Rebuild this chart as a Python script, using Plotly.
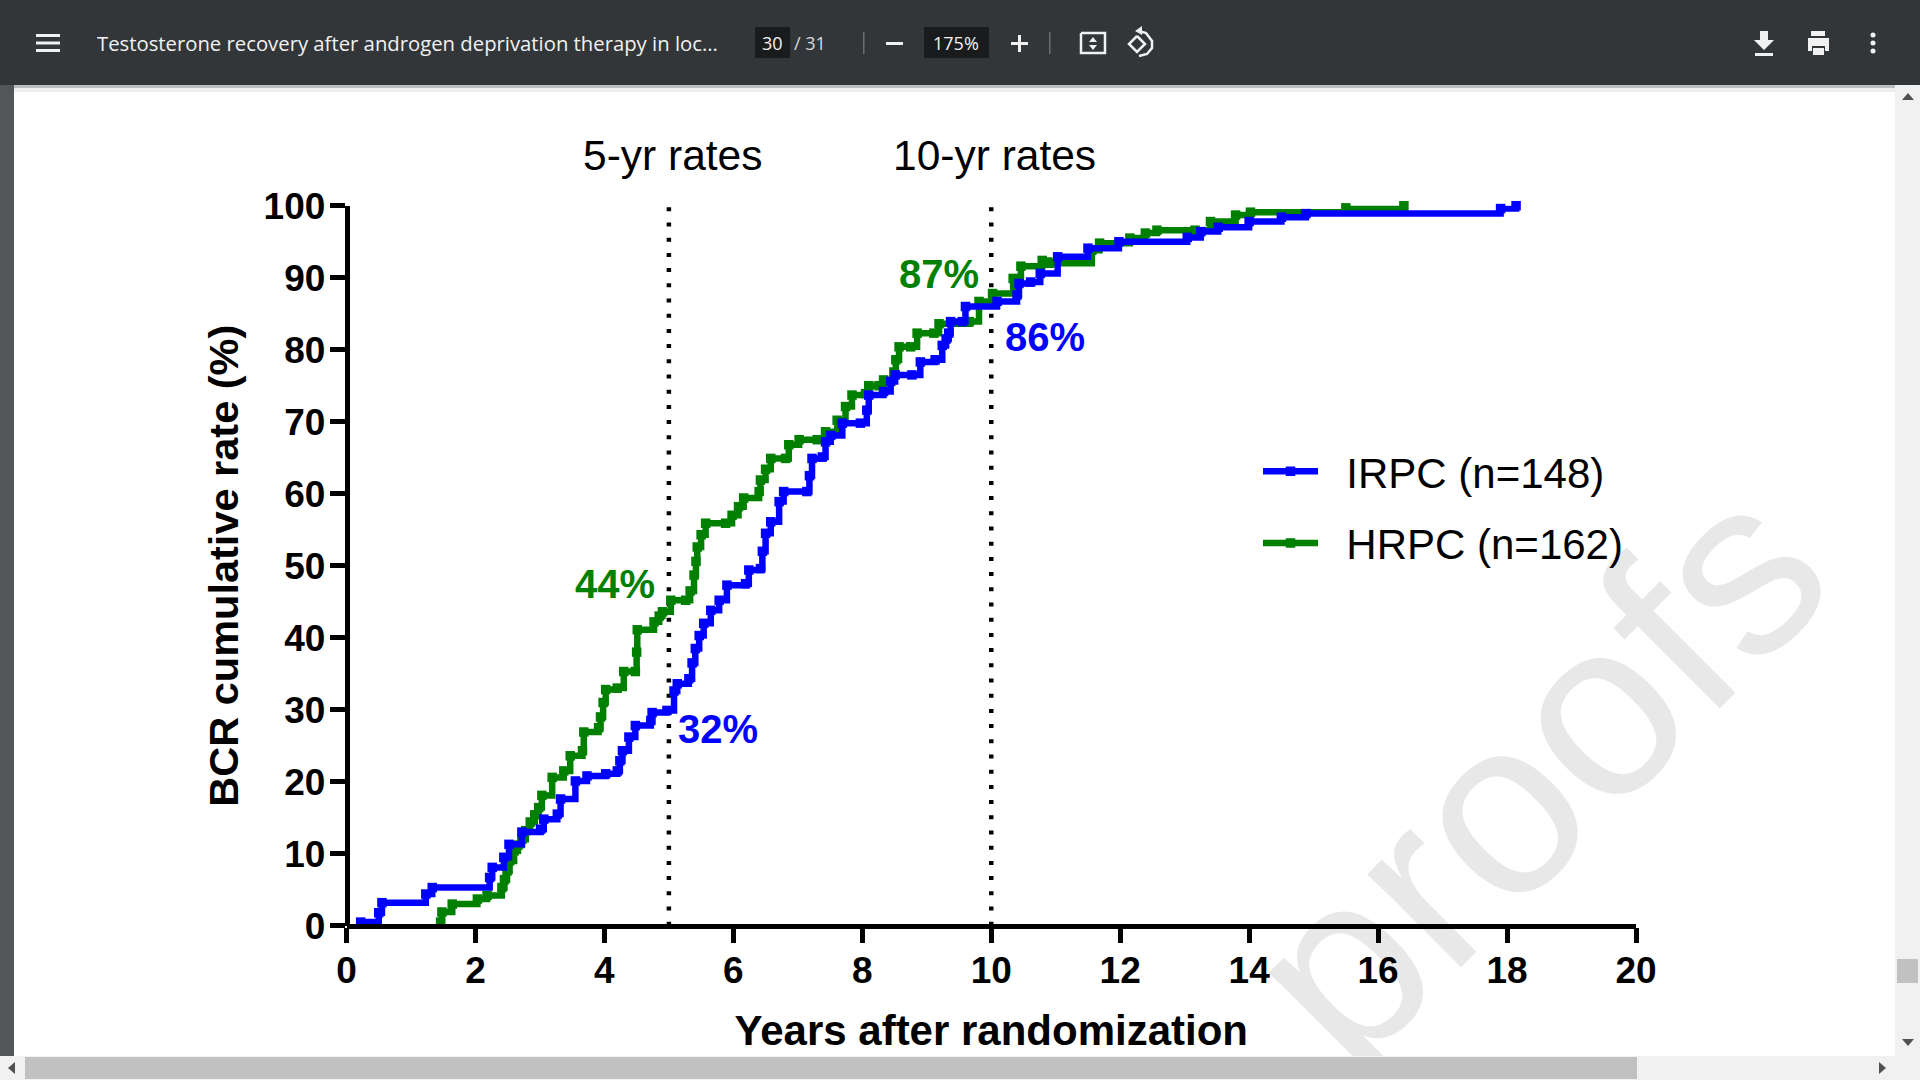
import plotly.graph_objects as go

W = 1920
H = 1080

# values
irpc_years = [0.22, 0.50, 0.55, 1.23, 1.33, 2.22, 2.26, 2.44, 2.52, 2.72, 3.01, 3.06, 3.27, 3.32, 3.55, 3.73, 4.02, 4.20,
              4.24, 4.28, 4.38, 4.48, 4.72, 4.74, 4.97, 5.08, 5.13, 5.31, 5.36, 5.41, 5.47, 5.54, 5.65, 5.78, 5.90, 6.19,
              6.24, 6.42, 6.45, 6.50, 6.58, 6.71, 6.78, 7.14, 7.18, 7.22, 7.38, 7.43, 7.51, 7.69, 7.97, 8.07, 8.10, 8.33,
              8.44, 8.51, 8.77, 8.90, 9.13, 9.24, 9.30, 9.34, 9.37, 9.55, 9.60, 10.09, 10.40, 10.43, 10.61, 10.76,
              11.03, 11.50, 11.98, 13.04, 13.25, 13.52, 14.00, 14.50, 14.88, 17.90, 18.14]
irpc_rate = [0.5, 1.8, 3.2, 4.4, 5.3, 6.7, 8.1, 9.5, 11.3, 13.0, 13.4, 14.8, 15.5, 17.6, 20.1, 20.8, 21.1, 21.5,
             22.9, 24.3, 26.2, 27.8, 28.5, 29.6, 29.9, 32.6, 33.6, 34.3, 36.5, 38.5, 40.3, 42.0, 43.8, 45.2, 47.3, 47.5,
             49.4, 49.6, 52.0, 54.5, 56.1, 58.9, 60.3, 60.3, 62.5, 64.9, 65.1, 67.2, 68.1, 69.8, 69.8, 71.6, 73.7, 74.2,
             75.6, 76.5, 76.5, 78.3, 78.6, 80.6, 81.5, 82.3, 83.9, 83.9, 86.0, 86.7, 87.6, 89.2, 89.4, 90.6,
             92.9, 94.1, 95.0, 95.6, 96.4, 97.0, 97.8, 98.4, 98.9, 99.6, 100.0]

hrpc_years = [1.46, 1.48, 1.64, 2.03, 2.18, 2.41, 2.45, 2.49, 2.53, 2.60, 2.66, 2.72, 2.78, 2.85, 2.92, 2.98, 3.03, 3.19,
              3.37, 3.47, 3.66, 3.68, 3.91, 3.94, 3.98, 4.02, 4.20, 4.30, 4.48, 4.50, 4.51, 4.77, 4.85, 4.90, 5.03, 5.26,
              5.33, 5.39, 5.42, 5.44, 5.50, 5.57, 5.88, 5.98, 6.08, 6.16, 6.40, 6.42, 6.50, 6.58, 6.81, 6.86, 7.02, 7.30,
              7.43, 7.61, 7.74, 7.84, 8.05, 8.10, 8.26, 8.33, 8.49, 8.52, 8.57, 8.75, 8.85, 9.11, 9.19, 9.66, 9.81, 10.02,
              10.34, 10.46, 10.79, 10.90, 11.56, 11.68, 12.15, 12.39, 12.57, 13.16, 13.40, 13.79, 14.02, 15.50, 16.40]
hrpc_rate = [0.5, 1.9, 3.0, 3.7, 4.2, 5.3, 6.4, 7.6, 9.0, 10.4, 11.2, 12.0, 13.2, 14.4, 15.4, 16.4, 18.1, 20.6,
             21.5, 23.6, 24.3, 26.9, 27.5, 29.0, 31.0, 32.8, 33.0, 35.3, 35.3, 38.0, 41.1, 42.2, 43.0, 43.6, 45.2, 45.2,
             46.5, 48.7, 50.6, 52.6, 54.3, 55.9, 55.9, 57.0, 58.2, 59.4, 60.3, 61.9, 63.4, 64.9, 64.9, 66.8, 67.5, 67.5,
             68.6, 70.2, 72.1, 73.7, 73.9, 75.0, 75.0, 75.8, 76.9, 78.6, 80.4, 80.4, 82.3, 82.3, 83.6, 83.9, 86.7, 87.8,
             89.9, 91.6, 92.4, 92.0, 93.8, 94.8, 95.5, 96.2, 96.6, 96.6, 97.8, 98.7, 99.1, 99.7, 100.0]

irpc_label = "\u00a0\u00a0IRPC (n=148)"
hrpc_label = "\u00a0\u00a0HRPC (n=162)"
x_ticks = [0, 2, 4, 6, 8, 10, 12, 14, 16, 18, 20]
y_ticks = [0, 10, 20, 30, 40, 50, 60, 70, 80, 90, 100]
cutoff_years = [5, 10]
cutoff_span = [0, 100]

BLUE = "#0000ff"
GREEN = "#008000"
BAR = "#323639"
SANS = "Liberation Sans"


def fx(x):
    return x / W


def fy(y):
    return 1 - y / H


def rect(x0, y0, x1, y1, color):
    return dict(type="rect", xref="paper", yref="paper", layer="below", x0=fx(x0), x1=fx(x1),
                y0=fy(y0), y1=fy(y1), fillcolor=color, line_width=0)


def poly(points, color):
    d = "M " + " L ".join(f"{fx(a):.5f},{fy(b):.5f}" for a, b in points) + " Z"
    return dict(type="path", xref="paper", yref="paper", layer="below", path=d, fillcolor=color, line_width=0)


def outline(points, color, width=2.5):
    d = "M " + " L ".join(f"{fx(a):.5f},{fy(b):.5f}" for a, b in points)
    return dict(type="path", xref="paper", yref="paper", layer="below", path=d, line=dict(color=color, width=width))


def dot(x, y, r, color="#f1f1f1"):
    return dict(type="circle", xref="paper", yref="paper", layer="below", x0=fx(x - r), x1=fx(x + r),
                y0=fy(y - r), y1=fy(y + r), fillcolor=color, line_width=0)


def label(x, y, text, size, color="black", bold=False, font=SANS, anchor="center"):
    shown = f"<b>{text}</b>" if bold else text
    return dict(x=fx(x), y=fy(y), xref="paper", yref="paper", text=shown, showarrow=False, xanchor=anchor,
                yanchor="middle", font=dict(family=font, size=size, color=color))


fig = go.Figure()

for year in cutoff_years:
    fig.add_trace(go.Scatter(x=[year, year], y=cutoff_span, mode="lines", showlegend=False, hoverinfo="skip",
                             line=dict(color="black", width=4.5, dash="4px,11.2px")))

fig.add_trace(go.Scatter(x=hrpc_years, y=hrpc_rate, name=hrpc_label, legendgroup="b", legendrank=2,
                         mode="lines+markers", cliponaxis=False, line=dict(color=GREEN, width=6.5, shape="hv"),
                         marker=dict(color=GREEN, symbol="square", size=9.5)))
fig.add_trace(go.Scatter(x=irpc_years, y=irpc_rate, name=irpc_label, legendgroup="a", legendrank=1,
                         mode="lines+markers", cliponaxis=False, line=dict(color=BLUE, width=6.5, shape="hv"),
                         marker=dict(color=BLUE, symbol="square", size=9.5)))

shapes = [
    # watermark sits behind everything, the bars below cut it off
    dict(type="rect", xref="paper", yref="paper", layer="below", x0=fx(1218), x1=fx(1818), y0=fy(1054), y1=fy(454),
         line_width=0, label=dict(text="proofs", textangle=-45, textposition="middle center",
                                  font=dict(family=SANS, size=250, color="#e8e8e8"))),
    rect(0, 0, 14, H, "#525659"),
    rect(1895, 85, W, H, "#f1f1f1"),
    rect(0, 1056, W, H, "#f1f1f1"),
    rect(25, 1057, 1637, 1079, "#c1c1c1"),
    rect(1897, 959, 1918, 983, "#c1c1c1"),
    poly([(1902, 100), (1914, 100), (1908, 93)], "#505050"),
    poly([(1902, 1039), (1914, 1039), (1908, 1046)], "#505050"),
    poly([(15, 1062), (15, 1074), (8, 1068)], "#505050"),
    poly([(1879, 1062), (1879, 1074), (1886, 1068)], "#505050"),
    # toolbar
    rect(14, 85, 1895, 88, "#bdbdbd"),
    rect(14, 88, 1895, 92, "#eeeeee"),
    rect(0, 0, W, 85, BAR),
    rect(755, 27, 790, 58, "#191b1c"),
    rect(924, 27, 989, 58, "#191b1c"),
    rect(863, 32, 864.5, 54, "#6b6e70"),
    rect(1049, 32, 1050.5, 54, "#6b6e70"),
    rect(36, 34, 60, 37, "#f1f1f1"),
    rect(36, 41.5, 60, 44.5, "#f1f1f1"),
    rect(36, 49, 60, 52, "#f1f1f1"),
    rect(886, 42, 903, 45, "#f1f1f1"),
    rect(1011, 42, 1028, 45, "#f1f1f1"),
    rect(1018, 35, 1021, 52, "#f1f1f1"),
    # fit to page
    outline([(1081, 33), (1105, 33), (1105, 53), (1081, 53), (1081, 33)], "#f1f1f1"),
    poly([(1089, 42), (1097, 42), (1093, 37)], "#f1f1f1"),
    poly([(1089, 45), (1097, 45), (1093, 50)], "#f1f1f1"),
    # rotate
    outline([(1137, 36), (1129, 44), (1137, 52), (1145, 44), (1137, 36)], "#f1f1f1"),
    outline([(1139, 31), (1146, 33), (1152, 41), (1152, 48), (1147, 54), (1139, 56)], "#f1f1f1"),
    poly([(1142, 26), (1142, 35), (1135, 31)], "#f1f1f1"),
    # download
    poly([(1760, 31), (1768, 31), (1768, 40), (1774, 40), (1764, 50), (1754, 40), (1760, 40)], "#f1f1f1"),
    rect(1755, 53, 1773, 56, "#f1f1f1"),
    # print
    rect(1811, 31, 1825, 36, "#f1f1f1"),
    poly([(1808, 38), (1829, 38), (1829, 51), (1825, 51), (1825, 46), (1812, 46), (1812, 51), (1808, 51)], "#f1f1f1"),
    rect(1813, 48, 1824, 55, "#f1f1f1"),
    # more
    dot(1873, 35, 2.5),
    dot(1873, 43, 2.5),
    dot(1873, 51, 2.5),
]

annotations = [
    label(95, 43, "Testosterone recovery after androgen deprivation therapy in loc...", 20.3, "#f1f1f1",
          font="Open Sans", anchor="left"),
    label(772, 43, "30", 18, "#f1f1f1", font="Open Sans"),
    label(810, 43, "/ 31", 18, "#d8d8d8", font="Open Sans"),
    label(956, 43, "175%", 18, "#f1f1f1", font="Open Sans"),
    label(672, 156, "5-yr rates", 42.5),
    label(995, 156, "10-yr rates", 42.5),
    label(615, 584, "44%", 40, GREEN, bold=True),
    label(939, 274, "87%", 40, GREEN, bold=True),
    label(718, 729, "32%", 40, BLUE, bold=True),
    label(1045, 337, "86%", 40, BLUE, bold=True),
]

fig.update_layout(
    width=W,
    height=H,
    margin=dict(l=0, r=0, t=0, b=0),
    paper_bgcolor="white",
    plot_bgcolor="rgba(0,0,0,0)",
    font=dict(family=SANS, color="black"),
    shapes=shapes,
    annotations=annotations,
    legend=dict(x=fx(1258), y=fy(437.5), xanchor="left", yanchor="top", tracegroupgap=14, itemwidth=55,
                bgcolor="rgba(0,0,0,0)", font=dict(family=SANS, size=42, color="black")),
    # free axes so the axis lines sit on the zero positions, not just outside them
    xaxis=dict(domain=[fx(346.5), fx(1636)], range=[0, 20], tickvals=x_ticks, showgrid=False, zeroline=False,
               anchor="free", position=fy(925.7),
               automargin=False, showline=True, linecolor="black", linewidth=4.5, ticks="outside", ticklen=15,
               tickwidth=4.5, tickcolor="black", ticklabelstandoff=-5,
               tickfont=dict(family=SANS, size=37, color="black", weight="bold"),
               title=dict(text="<b>Years after randomization</b>", standoff=25,
                          font=dict(family=SANS, size=42, color="black"))),
    yaxis=dict(domain=[fy(925.7), fy(205.7)], range=[0, 100], tickvals=y_ticks, showgrid=False, zeroline=False,
               anchor="free", position=fx(346.5),
               automargin=False, showline=True, linecolor="black", linewidth=4.5, ticks="outside", ticklen=15,
               tickwidth=4.5, tickcolor="black", ticklabelstandoff=-3,
               tickfont=dict(family=SANS, size=37, color="black", weight="bold"),
               title=dict(text="<b>BCR cumulative rate (%)</b>", standoff=11,
                          font=dict(family=SANS, size=41.5, color="black"))),
)

# the page's default body margin would push the figure off the window
fig.write_html("out.html", config={"displayModeBar": False}, post_script="document.body.style.margin='0';")
